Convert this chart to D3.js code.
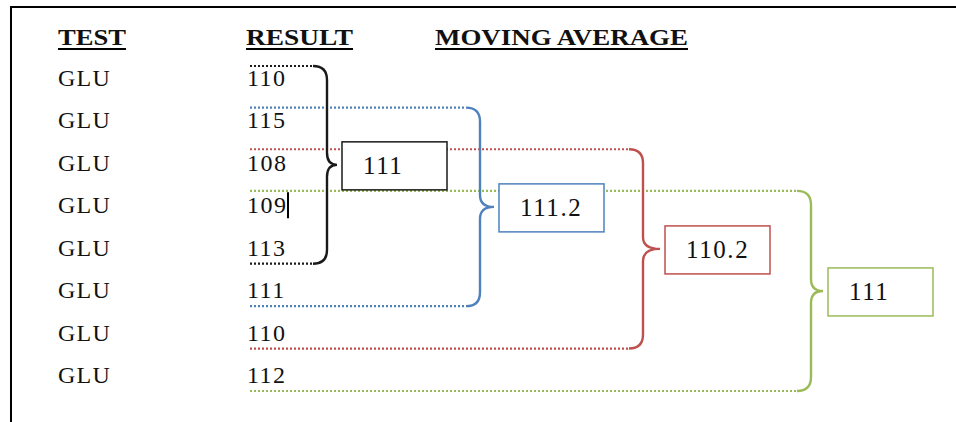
<!DOCTYPE html>
<html>
<head>
<meta charset="utf-8">
<script src="https://cdn.jsdelivr.net/npm/d3@7"></script>
<style>
  html, body { margin: 0; padding: 0; background: #fff; }
  svg { display: block; }
  text { font-family: "Liberation Serif", "Times New Roman", serif; fill: #111; }
</style>
</head>
<body>
<svg id="chart" width="956" height="422"></svg>
<script>
// ---- data ----
const headers = ["TEST", "RESULT", "MOVING AVERAGE"];
const tests = ["GLU", "GLU", "GLU", "GLU", "GLU", "GLU", "GLU", "GLU"];
const results = [110, 115, 108, 109, 113, 111, 110, 112];
const movingAverages = ["111", "111.2", "110.2", "111"];
const windowStarts = [0, 1, 2, 3];
const windowSize = 5;
const windowColors = ["#1a1a1a", "#4f81bd", "#c0504d", "#9bbb59"];

// ---- layout ----
const svg = d3.select("#chart");
const W = 956, H = 422;

// row baseline scale
const yRow = d3.scaleLinear().domain([0, tests.length - 1]).range([86, 383]);
// column scale for headers/columns
const xCol = d3.scaleOrdinal().domain(headers).range([58, 246, 435]);
const hdrWidth = d3.scaleOrdinal().domain(headers).range([68, 107, 253]);
// brace and box x position scales per window index
const xBrace = d3.scaleLinear().domain([0, 1, 2, 3]).range([327, 480, 643, 811]);
const xBox = d3.scaleLinear().domain([0, 1, 2, 3]).range([342, 499, 665, 828]);

// frame (top and left borders)
svg.append("line").attr("x1", 10).attr("x2", W).attr("y1", 7).attr("y2", 7)
  .attr("stroke", "#000").attr("stroke-width", 2);
svg.append("line").attr("x1", 11).attr("x2", 11).attr("y1", 6).attr("y2", H)
  .attr("stroke", "#000").attr("stroke-width", 2);

// headers
const hdr = svg.append("g").selectAll("g").data(headers).join("g");
hdr.append("text")
  .attr("x", d => xCol(d)).attr("y", 45)
  .attr("font-size", 24).attr("font-weight", "bold")
  .attr("textLength", d => hdrWidth(d))
  .attr("lengthAdjust", "spacingAndGlyphs")
  .text(d => d);
hdr.append("line")
  .attr("x1", d => xCol(d))
  .attr("x2", d => xCol(d) + hdrWidth(d))
  .attr("y1", 49).attr("y2", 49)
  .attr("stroke", "#000").attr("stroke-width", 2);

// test names
svg.append("g").selectAll("text").data(tests).join("text")
  .attr("x", xCol("TEST")).attr("y", (d, i) => yRow(i))
  .attr("font-size", 24).attr("letter-spacing", 1.2)
  .text(d => d);

// results
svg.append("g").selectAll("text").data(results).join("text")
  .attr("x", xCol("RESULT") + 1).attr("y", (d, i) => yRow(i))
  .attr("font-size", 24).attr("letter-spacing", 1.5)
  .text(d => d);

// text cursor after "109"
svg.append("line").attr("x1", 288).attr("x2", 288)
  .attr("y1", yRow(3) - 21).attr("y2", yRow(3) + 5)
  .attr("stroke", "#000").attr("stroke-width", 2);

// windows: dotted lines, braces, boxes (draw in reverse so black is on top)
const xLineStart = 250;
const r = 14;
const windows = windowStarts.map((s, k) => ({
  k, s,
  top: yRow(s) - 20 - k * 0.8,
  bottom: yRow(s + windowSize - 1) + 8,
  color: windowColors[k],
  label: movingAverages[k]
}));

const wg = svg.append("g").selectAll("g").data(windows.slice().reverse()).join("g");

// dotted lines
wg.append("line")
  .attr("x1", xLineStart).attr("x2", d => xBrace(d.k) - r)
  .attr("y1", d => d.top).attr("y2", d => d.top)
  .attr("stroke", d => d.color).attr("stroke-width", 2.2)
  .attr("stroke-dasharray", "2,2");
wg.append("line")
  .attr("x1", xLineStart).attr("x2", d => xBrace(d.k) - r)
  .attr("y1", d => d.bottom).attr("y2", d => d.bottom)
  .attr("stroke", d => d.color).attr("stroke-width", 2.2)
  .attr("stroke-dasharray", "2,2");

// braces
wg.append("path")
  .attr("d", d => {
    const bx = xBrace(d.k), t = d.top, b = d.bottom, m = (t + b) / 2;
    const tip = xBox(d.k) - 5;
    const p = d3.path();
    p.moveTo(bx - r, t);
    p.quadraticCurveTo(bx, t, bx, t + r);
    p.lineTo(bx, m - 12);
    p.quadraticCurveTo(bx, m, tip, m);
    p.quadraticCurveTo(bx, m, bx, m + 12);
    p.lineTo(bx, b - r);
    p.quadraticCurveTo(bx, b, bx - r, b);
    return p.toString();
  })
  .attr("fill", "none").attr("stroke", d => d.color).attr("stroke-width", 2.4);

// boxes
const boxW = 105, boxH = 48;
wg.append("rect")
  .attr("x", d => xBox(d.k))
  .attr("y", d => (d.top + d.bottom) / 2 + 1 - boxH / 2)
  .attr("width", boxW).attr("height", boxH)
  .attr("fill", "#fff").attr("stroke", d => d.color).attr("stroke-width", 1.5);
wg.append("text")
  .attr("x", d => xBox(d.k) + 21)
  .attr("y", d => (d.top + d.bottom) / 2 + 1 + 8)
  .attr("font-size", 25).attr("letter-spacing", 1.6)
  .text(d => d.label);
</script>
</body>
</html>
